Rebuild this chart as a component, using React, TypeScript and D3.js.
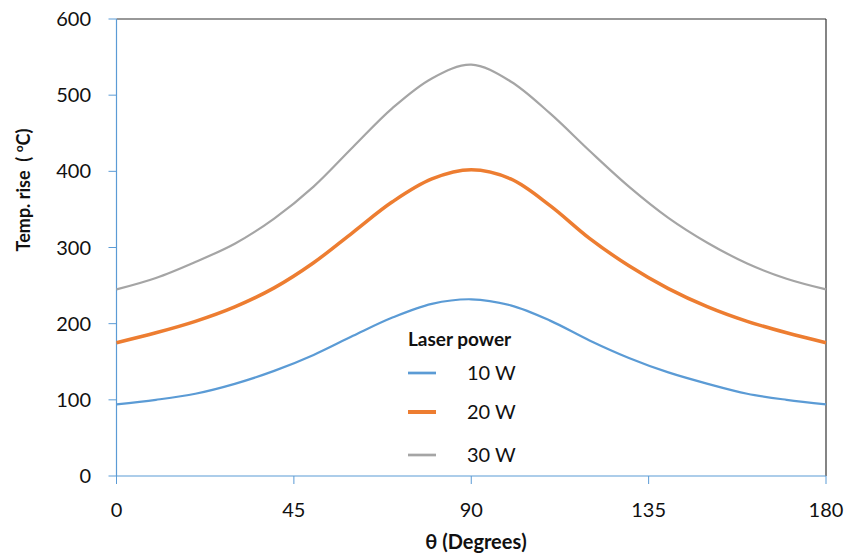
import React from "react";
import { scaleLinear, line, curveCatmullRom } from "d3";

const degrees = [0, 10, 20, 30, 40, 50, 60, 70, 80, 90, 100, 110, 120, 130, 140, 150, 160, 170, 180];
const watts10 = [94, 100, 108, 121, 138, 159, 184, 208, 226, 232, 224, 204, 178, 155, 136, 121, 108, 100, 94];
const watts20 = [175, 188, 203, 222, 247, 280, 320, 360, 390, 402, 390, 355, 312, 276, 246, 222, 203, 188, 175];
const watts30 = [245, 260, 281, 305, 338, 380, 432, 483, 522, 540, 518, 476, 427, 380, 339, 306, 279, 259, 245];
const xTicks = [0, 45, 90, 135, 180];
const yTicks = [0, 100, 200, 300, 400, 500, 600];

const series = [
  { name: "10 W", values: watts10, color: "#5B9BD5", width: 2.2 },
  { name: "20 W", values: watts20, color: "#ED7D31", width: 3.5 },
  { name: "30 W", values: watts30, color: "#A5A5A5", width: 2.2 },
];

const App = () => {
  const width = 850;
  const height = 558;
  const left = 116.5;
  const right = 826;
  const top = 19;
  const bottom = 476;
  const font = "Lato, 'Open Sans', sans-serif";

  const x = scaleLinear().domain([0, 180]).range([left, right]);
  const y = scaleLinear().domain([0, 600]).range([bottom, top]);

  const paths = series.map((s) => {
    const gen = line<number>()
      .x((_, i) => x(degrees[i]))
      .y((d) => y(d))
      .curve(curveCatmullRom);
    return (
      <path key={s.name} d={gen(s.values) || ""} fill="none" stroke={s.color} strokeWidth={s.width} />
    );
  });

  const yAxis = yTicks.map((t) => (
    <g key={t}>
      <line x1={left - 8} x2={left} y1={y(t)} y2={y(t)} stroke="#5B9BD5" strokeWidth="1" />
      <text x={91} y={y(t) + 7} textAnchor="end" fontSize="20px" fill="#111">
        {t}
      </text>
    </g>
  ));

  const xAxis = xTicks.map((t) => (
    <g key={t}>
      <line x1={x(t)} x2={x(t)} y1={bottom} y2={bottom + 8} stroke="#5B9BD5" strokeWidth="1" />
      <text x={x(t)} y={517} textAnchor="middle" fontSize="20px" fill="#111">
        {t}
      </text>
    </g>
  ));

  const legendRows = [373, 412, 455];
  const legend = series.map((s, i) => (
    <g key={s.name}>
      <line x1={408} x2={436} y1={legendRows[i]} y2={legendRows[i]} stroke={s.color} strokeWidth={s.width + 0.5} />
      <text x={467} y={legendRows[i] + 7} fontSize="20px" fill="#111">
        {s.name}
      </text>
    </g>
  ));

  return (
    <svg
      width={width}
      height={height}
      viewBox={`0 0 ${width} ${height}`}
      style={{ position: "absolute", left: 0, top: 0, background: "#fff" }}
      fontFamily={font}
    >
      <line x1={left} x2={right} y1={top} y2={top} stroke="#333" strokeWidth="1.2" />
      <line x1={right} x2={right} y1={top} y2={bottom} stroke="#333" strokeWidth="1.2" />
      <line x1={left} x2={left} y1={top} y2={bottom} stroke="#5B9BD5" strokeWidth="1.2" />
      <line x1={left} x2={right} y1={bottom} y2={bottom} stroke="#5B9BD5" strokeWidth="1.2" />
      {yAxis}
      {xAxis}
      {paths}
      <text x={408} y={346} fontSize="19px" fontWeight="bold" fill="#111">
        Laser power
      </text>
      {legend}
      <text
        transform={`translate(30, 190) rotate(-90)`}
        textAnchor="middle"
        fontSize="18px"
        fontWeight="bold"
        fill="#111"
      >
        Temp. rise&#160;&#160;( <tspan fontSize="12px" dy="-7">o</tspan>
        <tspan dy="7">C)</tspan>
      </text>
      <text x={476} y={549} textAnchor="middle" fontSize="20px" fontWeight="bold" fill="#111">
        θ (Degrees)
      </text>
    </svg>
  );
};

export default App;
